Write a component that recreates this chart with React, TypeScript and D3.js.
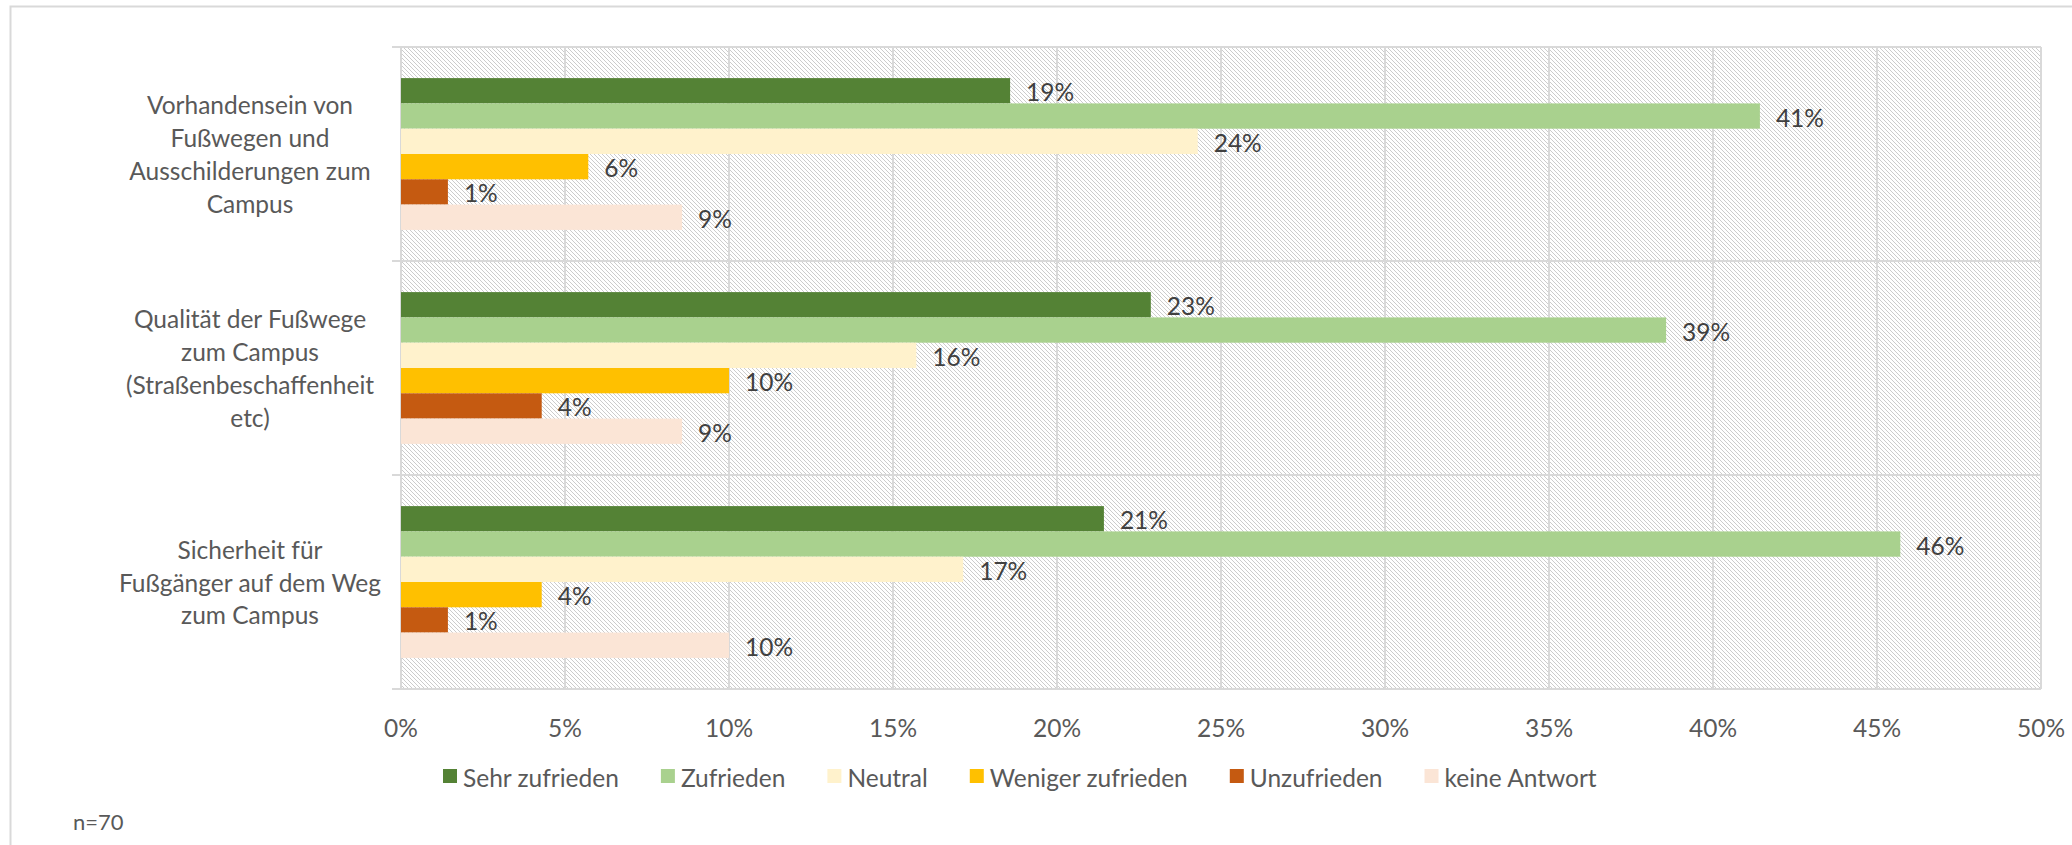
import { useRef, useEffect } from 'react';
import * as d3 from 'd3';

// Zufriedenheit Fußwege, n=70 (Anteile in %)
const categories = ['Vorhandensein', 'Qualitaet', 'Sicherheit'];
const categoryLines = [
  ['Vorhandensein von', 'Fußwegen und', 'Ausschilderungen zum', 'Campus'],
  ['Qualität der Fußwege', 'zum Campus', '(Straßenbeschaffenheit', 'etc)'],
  ['Sicherheit für', 'Fußgänger auf dem Weg', 'zum Campus'],
];
const series = ['Sehr zufrieden', 'Zufrieden', 'Neutral', 'Weniger zufrieden', 'Unzufrieden', 'keine Antwort'];
const seriesColors = ['#548235', '#A9D18E', '#FFF2CC', '#FFC000', '#C55A11', '#FBE5D6'];

const sehrZufrieden = [18.57, 22.86, 21.43];
const zufrieden = [41.43, 38.57, 45.71];
const neutral = [24.29, 15.71, 17.14];
const wenigerZufrieden = [5.71, 10.0, 4.29];
const unzufrieden = [1.43, 4.29, 1.43];
const keineAntwort = [8.57, 8.57, 10.0];

const xTicks = [0, 5, 10, 15, 20, 25, 30, 35, 40, 45, 50];

export default function App() {
  const ref = useRef<SVGSVGElement>(null);

  useEffect(() => {
    if (!ref.current) return;
    const width = 2072;
    const height = 845;
    const font = 'Lato, "Open Sans", sans-serif';
    const fs = '24.5px';
    const grid = '#d9d9d9';

    const values = [sehrZufrieden, zufrieden, neutral, wenigerZufrieden, unzufrieden, keineAntwort];

    const svg = d3.select(ref.current);
    svg.selectAll('*').remove();
    svg.attr('width', width).attr('height', height);

    svg.append('rect').attr('width', width).attr('height', height).attr('fill', '#fff');
    // chart border (runs off the page on the right/bottom)
    svg.append('rect')
      .attr('x', 10.5).attr('y', 6.5)
      .attr('width', 2100).attr('height', 900)
      .attr('fill', 'none').attr('stroke', grid).attr('stroke-width', 2);

    const defs = svg.append('defs');
    const pat = defs.append('pattern')
      .attr('id', 'hatch')
      .attr('patternUnits', 'userSpaceOnUse')
      .attr('width', 4).attr('height', 4);
    pat.append('rect').attr('width', 4).attr('height', 4).attr('fill', '#fff');
    d3.range(4).forEach((i) => {
      pat.append('rect').attr('x', i).attr('y', i).attr('width', 1).attr('height', 1).attr('fill', '#cccccc');
    });

    const x = d3.scaleLinear().domain([0, 50]).range([401, 2041]);
    const y = d3.scaleBand<string>().domain(categories).range([47, 689]).paddingInner(0).paddingOuter(0);
    const ySeries = d3.scaleBand<string>().domain(series).range([0, y.bandwidth()]).paddingInner(0).paddingOuter(1.23);

    const plotTop = y.range()[0];
    const plotBottom = y.range()[1];

    svg.append('rect')
      .attr('x', x(0)).attr('y', plotTop)
      .attr('width', x(50) - x(0)).attr('height', plotBottom - plotTop)
      .attr('fill', 'url(#hatch)');

    // vertical gridlines
    svg.append('g').selectAll('line')
      .data(xTicks)
      .enter()
      .append('line')
      .attr('x1', (d) => x(d)).attr('x2', (d) => x(d))
      .attr('y1', plotTop).attr('y2', plotBottom)
      .attr('stroke', grid).attr('stroke-width', 2);

    // category boundaries with outside ticks
    const bounds = [...categories.map((c) => y(c) as number), plotBottom];
    svg.append('g').selectAll('line')
      .data(bounds)
      .enter()
      .append('line')
      .attr('x1', x(0) - 9).attr('x2', x(50))
      .attr('y1', (d) => d).attr('y2', (d) => d)
      .attr('stroke', grid).attr('stroke-width', 2);

    // bars
    const barData = categories.flatMap((c, ci) =>
      series.map((s, si) => ({ c, s, si, v: values[si][ci] }))
    );
    const gBars = svg.append('g');
    gBars.selectAll('rect')
      .data(barData)
      .enter()
      .append('rect')
      .attr('x', x(0))
      .attr('y', (d) => (y(d.c) as number) + (ySeries(d.s) as number))
      .attr('width', (d) => x(d.v) - x(0))
      .attr('height', ySeries.bandwidth())
      .attr('fill', (d) => seriesColors[d.si]);

    gBars.selectAll('text')
      .data(barData)
      .enter()
      .append('text')
      .attr('x', (d) => x(d.v) + 16)
      .attr('y', (d) => (y(d.c) as number) + (ySeries(d.s) as number) + ySeries.bandwidth() / 2 + 1)
      .attr('dominant-baseline', 'central')
      .style('font-family', font)
      .style('font-size', fs)
      .style('fill', '#404040')
      .text((d) => `${Math.round(d.v)}%`);

    // x tick labels
    svg.append('g').selectAll('text')
      .data(xTicks)
      .enter()
      .append('text')
      .attr('x', (d) => x(d))
      .attr('y', 727)
      .attr('text-anchor', 'middle')
      .attr('dominant-baseline', 'central')
      .style('font-family', font)
      .style('font-size', fs)
      .style('fill', '#595959')
      .text((d) => `${d}%`);

    // category labels
    const lineH = 32.7;
    categories.forEach((c, ci) => {
      const lines = categoryLines[ci];
      const cy = (y(c) as number) + y.bandwidth() / 2;
      const t = svg.append('text')
        .attr('text-anchor', 'middle')
        .style('font-family', font)
        .style('font-size', fs)
        .style('fill', '#595959');
      lines.forEach((ln, li) => {
        t.append('tspan')
          .attr('x', 250)
          .attr('y', cy + (li - (lines.length - 1) / 2) * lineH)
          .attr('dominant-baseline', 'central')
          .text(ln);
      });
    });

    // legend
    const legend = svg.append('g');
    let lx = 443;
    series.forEach((s, si) => {
      legend.append('rect')
        .attr('x', lx).attr('y', 769)
        .attr('width', 14).attr('height', 14)
        .attr('fill', seriesColors[si]);
      const txt = legend.append('text')
        .attr('x', lx + 20).attr('y', 777)
        .attr('dominant-baseline', 'central')
        .style('font-family', font)
        .style('font-size', fs)
        .style('fill', '#595959')
        .text(s);
      const w = (txt.node() as SVGTextElement).getComputedTextLength();
      lx += 20 + w + 42;
    });

    svg.append('text')
      .attr('x', 73).attr('y', 821)
      .attr('dominant-baseline', 'central')
      .style('font-family', font)
      .style('font-size', '22px')
      .style('fill', '#595959')
      .text('n=70');
  }, []);

  return <svg ref={ref} style={{ position: 'absolute', left: 0, top: 0, display: 'block' }} />;
}
